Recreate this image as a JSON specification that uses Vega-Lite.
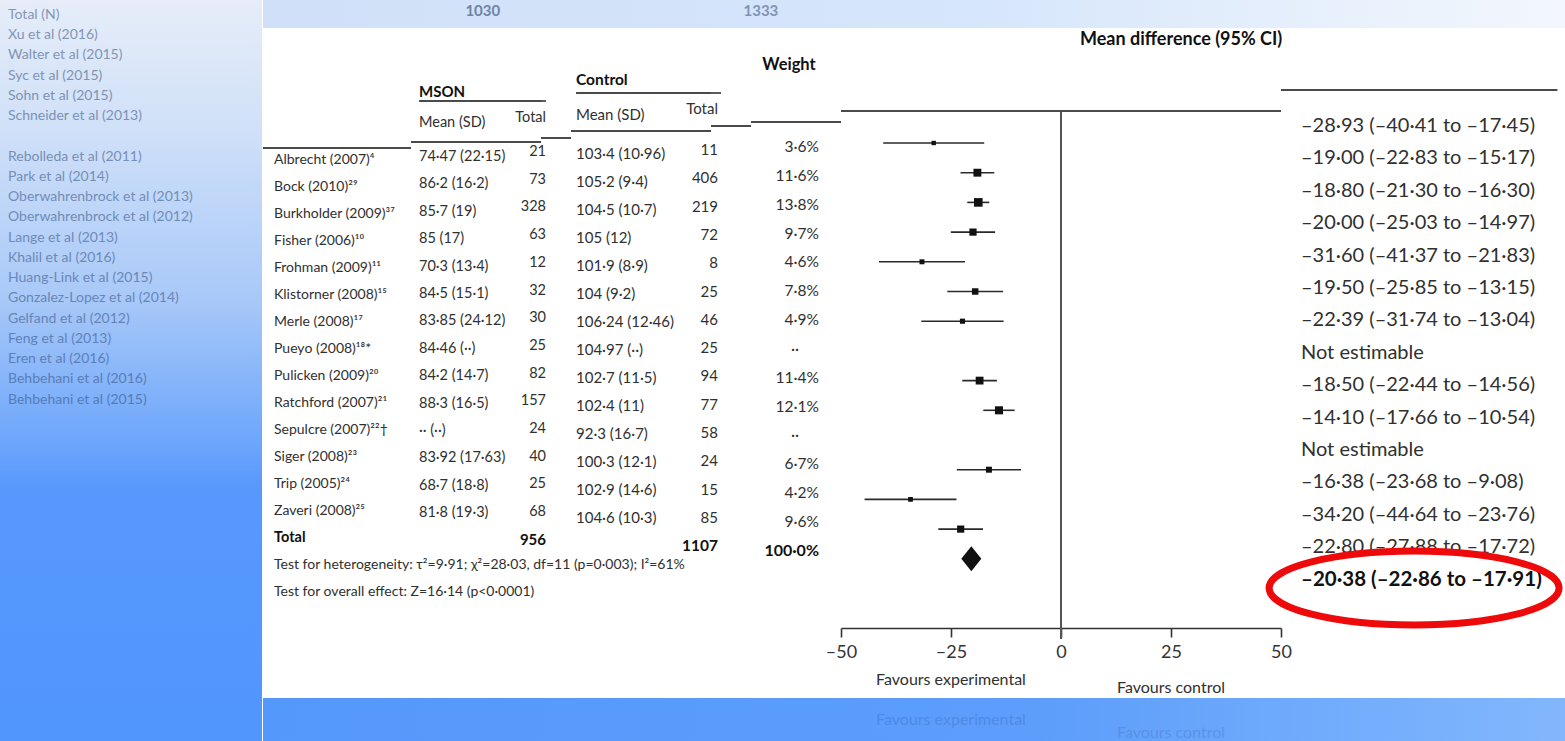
{
  "$schema": "https://vega.github.io/schema/vega-lite/v6.json",
  "padding": 0,
  "background": "#ffffff",
  "config": {
    "view": {"stroke": null},
    "font": "Lato",
    "concat": {"spacing": 0},
    "text": {"font": "Lato", "color": "#303030", "baseline": "middle"}
  },
  "datasets": {
    "one": [{"k": 1}],
    "ghost": [
      {"g": 0, "t": "Total (N)"},
      {"g": 1, "t": "Xu et al (2016)"},
      {"g": 2, "t": "Walter et al (2015)"},
      {"g": 3, "t": "Syc et al (2015)"},
      {"g": 4, "t": "Sohn et al (2015)"},
      {"g": 5, "t": "Schneider et al (2013)"},
      {"g": 7, "t": "Rebolleda et al (2011)"},
      {"g": 8, "t": "Park et al (2014)"},
      {"g": 9, "t": "Oberwahrenbrock et al (2013)"},
      {"g": 10, "t": "Oberwahrenbrock et al (2012)"},
      {"g": 11, "t": "Lange et al (2013)"},
      {"g": 12, "t": "Khalil et al (2016)"},
      {"g": 13, "t": "Huang-Link et al (2015)"},
      {"g": 14, "t": "Gonzalez-Lopez et al (2014)"},
      {"g": 15, "t": "Gelfand et al (2012)"},
      {"g": 16, "t": "Feng et al (2013)"},
      {"g": 17, "t": "Eren et al (2016)"},
      {"g": 18, "t": "Behbehani et al (2016)"},
      {"g": 19, "t": "Behbehani et al (2015)"}
    ],
    "studies": [
      {"r": 1, "study": "Albrecht (2007)⁴", "mm": "74·47 (22·15)", "mt": "21", "cm": "103·4 (10·96)", "ct": "11", "wt": "3·6%", "w": 3.6, "md": -28.93, "lo": -40.41, "hi": -17.45, "ci": "–28·93 (–40·41 to –17·45)"},
      {"r": 2, "study": "Bock (2010)²⁹", "mm": "86·2 (16·2)", "mt": "73", "cm": "105·2 (9·4)", "ct": "406", "wt": "11·6%", "w": 11.6, "md": -19.0, "lo": -22.83, "hi": -15.17, "ci": "–19·00 (–22·83 to –15·17)"},
      {"r": 3, "study": "Burkholder (2009)³⁷", "mm": "85·7 (19)", "mt": "328", "cm": "104·5 (10·7)", "ct": "219", "wt": "13·8%", "w": 13.8, "md": -18.8, "lo": -21.3, "hi": -16.3, "ci": "–18·80 (–21·30 to –16·30)"},
      {"r": 4, "study": "Fisher (2006)¹⁰", "mm": "85 (17)", "mt": "63", "cm": "105 (12)", "ct": "72", "wt": "9·7%", "w": 9.7, "md": -20.0, "lo": -25.03, "hi": -14.97, "ci": "–20·00 (–25·03 to –14·97)"},
      {"r": 5, "study": "Frohman (2009)¹¹", "mm": "70·3 (13·4)", "mt": "12", "cm": "101·9 (8·9)", "ct": "8", "wt": "4·6%", "w": 4.6, "md": -31.6, "lo": -41.37, "hi": -21.83, "ci": "–31·60 (–41·37 to –21·83)"},
      {"r": 6, "study": "Klistorner (2008)¹⁵", "mm": "84·5 (15·1)", "mt": "32", "cm": "104 (9·2)", "ct": "25", "wt": "7·8%", "w": 7.8, "md": -19.5, "lo": -25.85, "hi": -13.15, "ci": "–19·50 (–25·85 to –13·15)"},
      {"r": 7, "study": "Merle (2008)¹⁷", "mm": "83·85 (24·12)", "mt": "30", "cm": "106·24 (12·46)", "ct": "46", "wt": "4·9%", "w": 4.9, "md": -22.39, "lo": -31.74, "hi": -13.04, "ci": "–22·39 (–31·74 to –13·04)"},
      {"r": 8, "study": "Pueyo (2008)¹⁸*", "mm": "84·46 (··)", "mt": "25", "cm": "104·97 (··)", "ct": "25", "wt": "··", "w": null, "md": null, "lo": null, "hi": null, "ci": "Not estimable"},
      {"r": 9, "study": "Pulicken (2009)²⁰", "mm": "84·2 (14·7)", "mt": "82", "cm": "102·7 (11·5)", "ct": "94", "wt": "11·4%", "w": 11.4, "md": -18.5, "lo": -22.44, "hi": -14.56, "ci": "–18·50 (–22·44 to –14·56)"},
      {"r": 10, "study": "Ratchford (2007)²¹", "mm": "88·3 (16·5)", "mt": "157", "cm": "102·4 (11)", "ct": "77", "wt": "12·1%", "w": 12.1, "md": -14.1, "lo": -17.66, "hi": -10.54, "ci": "–14·10 (–17·66 to –10·54)"},
      {"r": 11, "study": "Sepulcre (2007)²²†", "mm": "·· (··)", "mt": "24", "cm": "92·3 (16·7)", "ct": "58", "wt": "··", "w": null, "md": null, "lo": null, "hi": null, "ci": "Not estimable"},
      {"r": 12, "study": "Siger (2008)²³", "mm": "83·92 (17·63)", "mt": "40", "cm": "100·3 (12·1)", "ct": "24", "wt": "6·7%", "w": 6.7, "md": -16.38, "lo": -23.68, "hi": -9.08, "ci": "–16·38 (–23·68 to –9·08)"},
      {"r": 13, "study": "Trip (2005)²⁴", "mm": "68·7 (18·8)", "mt": "25", "cm": "102·9 (14·6)", "ct": "15", "wt": "4·2%", "w": 4.2, "md": -34.2, "lo": -44.64, "hi": -23.76, "ci": "–34·20 (–44·64 to –23·76)"},
      {"r": 14, "study": "Zaveri (2008)²⁵", "mm": "81·8 (19·3)", "mt": "68", "cm": "104·6 (10·3)", "ct": "85", "wt": "9·6%", "w": 9.6, "md": -22.8, "lo": -27.88, "hi": -17.72, "ci": "–22·80 (–27·88 to –17·72)"},
      {"r": 15, "study": "Total", "mm": "", "mt": "956", "cm": "", "ct": "1107", "wt": "100·0%", "w": null, "md": -20.38, "lo": -22.86, "hi": -17.91, "ci": "–20·38 (–22·86 to –17·91)"},
      {"r": 16, "study": "Test for heterogeneity: τ²=9·91; χ²=28·03, df=11 (p=0·003); I²=61%", "mm": "", "mt": "", "cm": "", "ct": "", "wt": "", "w": null, "md": null, "lo": null, "hi": null, "ci": ""},
      {"r": 17, "study": "Test for overall effect: Z=16·14 (p<0·0001)", "mm": "", "mt": "", "cm": "", "ct": "", "wt": "", "w": null, "md": null, "lo": null, "hi": null, "ci": ""}
    ]
  },
  "spacing": 0,
  "hconcat": [
    {
      "width": 262,
      "height": 741,
      "view": {"stroke": null, "fill": {"gradient": "linear", "x1": 0, "y1": 0, "x2": 0, "y2": 1, "stops": [{"offset": 0, "color": "#e6edf8"}, {"offset": 0.18, "color": "#cfe0f8"}, {"offset": 0.4, "color": "#a9c9f8"}, {"offset": 0.58, "color": "#72a9fb"}, {"offset": 0.66, "color": "#5798fd"}, {"offset": 1, "color": "#5196fd"}]}},
      "data": {"name": "ghost"},
      "mark": {"type": "text", "align": "left", "dx": 8, "fontSize": 14, "color": "#34507f", "opacity": 0.55},
      "encoding": {
        "x": {"datum": 0, "type": "quantitative", "scale": {"domain": [0, 1], "nice": false, "zero": false}, "axis": null},
        "y": {"field": "g", "type": "quantitative", "scale": {"domain": [-0.741, 35.87], "reverse": true, "nice": false, "zero": false}, "axis": null},
        "text": {"field": "t"}
      }
    },
    {
      "spacing": 0,
      "vconcat": [
        {
          "width": 1303,
          "height": 28,
          "view": {"stroke": null, "fill": {"gradient": "linear", "x1": 0, "y1": 0, "x2": 1, "y2": 0, "stops": [{"offset": 0, "color": "#cfe0f8"}, {"offset": 0.55, "color": "#d6e6fb"}, {"offset": 1, "color": "#f3f7fd"}]}},
          "data": {"name": "one"},
          "encoding": {
            "x": {"datum": -131.4, "type": "quantitative", "scale": {"domain": [-181.36, 114.77], "nice": false, "zero": false}, "axis": null},
            "y": {"datum": 0.6, "type": "quantitative", "scale": {"domain": [0, 1], "nice": false, "zero": false}, "axis": null}
          },
          "layer": [
            {"mark": {"type": "text", "text": "1030", "fontSize": 15, "fontWeight": "bold", "color": "#2e4470", "opacity": 0.6}},
            {"mark": {"type": "text", "text": "1333", "fontSize": 15, "fontWeight": "bold", "color": "#2e4470", "opacity": 0.5}, "encoding": {"x": {"datum": -68.2, "type": "quantitative", "axis": null}}}
          ]
        },
        {
          "spacing": 0,
          "bounds": "flush",
          "hconcat": [
            {
              "width": 148,
              "height": 670,
              "encoding": {
                "x": {"datum": 0, "type": "quantitative", "scale": {"domain": [0, 1], "nice": false, "zero": false}, "axis": null}
              },
              "layer": [
                {"data": {"name": "studies"}, "transform": [{"filter": "datum.r != 15"}], "mark": {"type": "text", "align": "left", "dx": 11, "fontSize": 14}, "encoding": {"y": {"field": "r", "type": "quantitative", "scale": {"domain": [-3.889, 20.926], "reverse": true, "nice": false, "zero": false}, "axis": null}, "text": {"field": "study"}}},
                {"data": {"name": "studies"}, "transform": [{"filter": "datum.r == 15"}], "mark": {"type": "text", "align": "left", "dx": 11, "fontSize": 14.5, "fontWeight": "bold", "color": "#111111"}, "encoding": {"y": {"field": "r", "type": "quantitative", "axis": null}, "text": {"field": "study"}}},
                {"data": {"name": "one"}, "mark": {"type": "rule", "color": "#4a4a4a", "strokeWidth": 2}, "encoding": {"x2": {"datum": 1}, "y": {"datum": 0.556, "type": "quantitative", "axis": null}}}
              ]
            },
            {
              "width": 130,
              "height": 670,
              "encoding": {
                "x": {"datum": 0, "type": "quantitative", "scale": {"domain": [0, 1], "nice": false, "zero": false}, "axis": null}
              },
              "layer": [
                {"data": {"name": "studies"}, "mark": {"type": "text", "align": "left", "dx": 8, "fontSize": 14.5}, "encoding": {"y": {"field": "r", "type": "quantitative", "scale": {"domain": [-3.708, 20.745], "reverse": true, "nice": false, "zero": false}, "axis": null}, "text": {"field": "mm"}}},
                {"data": {"name": "one"}, "mark": {"type": "text", "text": "MSON", "align": "left", "dx": 8, "fontSize": 15, "fontWeight": "bold", "color": "#111111"}, "encoding": {"y": {"datum": -1.372, "type": "quantitative", "axis": null}}},
                {"data": {"name": "one"}, "mark": {"type": "text", "text": "Mean (SD)", "align": "left", "dx": 8, "fontSize": 14.5}, "encoding": {"y": {"datum": -0.241, "type": "quantitative", "axis": null}}},
                {"data": {"name": "one"}, "mark": {"type": "rule", "color": "#4a4a4a", "strokeWidth": 1.8}, "encoding": {"x": {"datum": 0.062, "type": "quantitative", "axis": null}, "x2": {"datum": 1}, "y": {"datum": -1.044, "type": "quantitative", "axis": null}}},
                {"data": {"name": "one"}, "mark": {"type": "rule", "color": "#4a4a4a", "strokeWidth": 2}, "encoding": {"x2": {"datum": 1}, "y": {"datum": 0.453, "type": "quantitative", "axis": null}}}
              ]
            },
            {
              "width": 30,
              "height": 670,
              "encoding": {
                "x": {"datum": 0, "type": "quantitative", "scale": {"domain": [0, 1], "nice": false, "zero": false}, "axis": null}
              },
              "layer": [
                {"data": {"name": "studies"}, "transform": [{"filter": "datum.r != 15"}], "mark": {"type": "text", "align": "right", "dx": 5, "fontSize": 14.5}, "encoding": {"y": {"field": "r", "type": "quantitative", "scale": {"domain": [-3.477, 20.711], "reverse": true, "nice": false, "zero": false}, "axis": null}, "text": {"field": "mt"}}},
                {"data": {"name": "studies"}, "transform": [{"filter": "datum.r == 15"}], "mark": {"type": "text", "align": "right", "dx": 5, "fontSize": 15, "fontWeight": "bold", "color": "#111111"}, "encoding": {"y": {"field": "r", "type": "quantitative", "axis": null}, "text": {"field": "mt"}}},
                {"data": {"name": "one"}, "mark": {"type": "text", "text": "Total", "align": "right", "dx": 5, "fontSize": 14.5}, "encoding": {"y": {"datum": -0.228, "type": "quantitative", "axis": null}}},
                {"data": {"name": "one"}, "mark": {"type": "rule", "color": "#4a4a4a", "strokeWidth": 1.8}, "encoding": {"x2": {"datum": 0.167}, "y": {"datum": -0.842, "type": "quantitative", "axis": null}}},
                {"data": {"name": "one"}, "mark": {"type": "rule", "color": "#4a4a4a", "strokeWidth": 2}, "encoding": {"x2": {"datum": 1}, "y": {"datum": 0.494, "type": "quantitative", "axis": null}}}
              ]
            },
            {
              "width": 140,
              "height": 670,
              "encoding": {
                "x": {"datum": 0, "type": "quantitative", "scale": {"domain": [0, 1], "nice": false, "zero": false}, "axis": null}
              },
              "layer": [
                {"data": {"name": "studies"}, "mark": {"type": "text", "align": "left", "dx": 5, "fontSize": 15}, "encoding": {"y": {"field": "r", "type": "quantitative", "scale": {"domain": [-3.5, 20.429], "reverse": true, "nice": false, "zero": false}, "axis": null}, "text": {"field": "cm"}}},
                {"data": {"name": "one"}, "mark": {"type": "text", "text": "Control", "align": "left", "dx": 5, "fontSize": 15.5, "fontWeight": "bold", "color": "#111111"}, "encoding": {"y": {"datum": -1.643, "type": "quantitative", "axis": null}}},
                {"data": {"name": "one"}, "mark": {"type": "text", "text": "Mean (SD)", "align": "left", "dx": 5, "fontSize": 15}, "encoding": {"y": {"datum": -0.393, "type": "quantitative", "axis": null}}},
                {"data": {"name": "one"}, "mark": {"type": "rule", "color": "#4a4a4a", "strokeWidth": 1.8}, "encoding": {"x": {"datum": 0.036, "type": "quantitative", "axis": null}, "x2": {"datum": 1}, "y": {"datum": -1.179, "type": "quantitative", "axis": null}}},
                {"data": {"name": "one"}, "mark": {"type": "rule", "color": "#4a4a4a", "strokeWidth": 2}, "encoding": {"x2": {"datum": 1}, "y": {"datum": 0.179, "type": "quantitative", "axis": null}}}
              ]
            },
            {
              "width": 40,
              "height": 670,
              "encoding": {
                "x": {"datum": 0, "type": "quantitative", "scale": {"domain": [0, 1], "nice": false, "zero": false}, "axis": null}
              },
              "layer": [
                {"data": {"name": "studies"}, "transform": [{"filter": "datum.r != 15"}], "mark": {"type": "text", "align": "right", "dx": 7, "fontSize": 15}, "encoding": {"y": {"field": "r", "type": "quantitative", "scale": {"domain": [-3.311, 20.364], "reverse": true, "nice": false, "zero": false}, "axis": null}, "text": {"field": "ct"}}},
                {"data": {"name": "studies"}, "transform": [{"filter": "datum.r == 15"}], "mark": {"type": "text", "align": "right", "dx": 7, "fontSize": 15.5, "fontWeight": "bold", "color": "#111111"}, "encoding": {"y": {"field": "r", "type": "quantitative", "axis": null}, "text": {"field": "ct"}}},
                {"data": {"name": "one"}, "mark": {"type": "text", "text": "Total", "align": "right", "dx": 7, "fontSize": 15}, "encoding": {"y": {"datum": -0.449, "type": "quantitative", "axis": null}}},
                {"data": {"name": "one"}, "mark": {"type": "rule", "color": "#4a4a4a", "strokeWidth": 1.8}, "encoding": {"x2": {"datum": 0.25}, "y": {"datum": -1.014, "type": "quantitative", "axis": null}}},
                {"data": {"name": "one"}, "mark": {"type": "rule", "color": "#4a4a4a", "strokeWidth": 2}, "encoding": {"x2": {"datum": 1}, "y": {"datum": 0.152, "type": "quantitative", "axis": null}}}
              ]
            },
            {
              "width": 90,
              "height": 670,
              "encoding": {
                "x": {"datum": 0, "type": "quantitative", "scale": {"domain": [0, 1], "nice": false, "zero": false}, "axis": null}
              },
              "layer": [
                {"data": {"name": "studies"}, "transform": [{"filter": "datum.r != 15 && datum.wt != '··'"}], "mark": {"type": "text", "align": "right", "dx": 68, "fontSize": 15.5}, "encoding": {"y": {"field": "r", "type": "quantitative", "scale": {"domain": [-3.125, 20.099], "reverse": true, "nice": false, "zero": false}, "axis": null}, "text": {"field": "wt"}}},
                {"data": {"name": "studies"}, "transform": [{"filter": "datum.wt == '··'"}], "mark": {"type": "text", "align": "center", "dx": 44, "fontSize": 15.5}, "encoding": {"y": {"field": "r", "type": "quantitative", "axis": null}, "text": {"field": "wt"}}},
                {"data": {"name": "studies"}, "transform": [{"filter": "datum.r == 15"}], "mark": {"type": "text", "align": "right", "dx": 68, "fontSize": 16, "fontWeight": "bold", "color": "#111111"}, "encoding": {"y": {"field": "r", "type": "quantitative", "axis": null}, "text": {"field": "wt"}}},
                {"data": {"name": "one"}, "mark": {"type": "text", "text": "Weight", "align": "center", "dx": 38, "fontSize": 16.5, "fontWeight": "bold", "color": "#111111"}, "encoding": {"y": {"datum": -1.843, "type": "quantitative", "axis": null}}},
                {"data": {"name": "one"}, "mark": {"type": "rule", "color": "#4a4a4a", "strokeWidth": 2}, "encoding": {"x2": {"datum": 1}, "y": {"datum": 0.133, "type": "quantitative", "axis": null}}}
              ]
            },
            {
              "width": 440,
              "height": 600,
              "layer": [
                {
                  "data": {"name": "studies"},
                  "transform": [{"filter": "isValid(datum.md) && datum.r <= 14"}],
                  "mark": {"type": "rule", "color": "#2a2a2a", "strokeWidth": 1.6},
                  "encoding": {
                    "x": {"field": "lo", "type": "quantitative", "scale": {"domain": [-50, 50], "nice": false, "zero": false}, "axis": {"values": [-50, -25, 0, 25, 50], "title": null, "grid": false, "labelExpr": "datum.value < 0 ? '–' + abs(datum.value) : datum.label", "labelFontSize": 18, "labelFont": "Lato", "labelColor": "#333333", "tickSize": 9, "tickWidth": 1.6, "tickColor": "#333333", "domainColor": "#333333", "domainWidth": 1.6, "labelPadding": 6, "labelFlush": false}},
                    "x2": {"field": "hi"},
                    "y": {"field": "r", "type": "quantitative", "scale": {"domain": [-2.872, 17.33], "reverse": true, "nice": false, "zero": false}, "axis": null}
                  }
                },
                {
                  "data": {"name": "studies"},
                  "transform": [{"filter": "isValid(datum.md) && datum.r <= 14"}],
                  "mark": {"type": "square", "color": "#111111", "opacity": 1},
                  "encoding": {
                    "x": {"field": "md", "type": "quantitative"},
                    "y": {"field": "r", "type": "quantitative", "axis": null},
                    "size": {"field": "w", "type": "quantitative", "scale": {"domain": [0, 14], "range": [0, 75]}, "legend": null}
                  }
                },
                {
                  "data": {"name": "studies"},
                  "transform": [{"filter": "datum.r == 15"}],
                  "mark": {"type": "point", "shape": "M-0.8,0L0,-1L0.8,0L0,1Z", "filled": true, "color": "#111111", "opacity": 1, "size": 625},
                  "encoding": {
                    "x": {"field": "md", "type": "quantitative"},
                    "y": {"field": "r", "type": "quantitative", "axis": null}
                  }
                },
                {
                  "data": {"name": "one"},
                  "mark": {"type": "rule", "color": "#555555", "strokeWidth": 2},
                  "encoding": {
                    "x": {"datum": 0, "type": "quantitative"},
                    "y": {"datum": -0.08, "type": "quantitative", "axis": null},
                    "y2": {"datum": 17.7}
                  }
                },
                {
                  "data": {"name": "one"},
                  "mark": {"type": "rule", "color": "#4a4a4a", "strokeWidth": 2},
                  "encoding": {
                    "x": {"datum": -50, "type": "quantitative"},
                    "x2": {"datum": 50},
                    "y": {"datum": -0.08, "type": "quantitative", "axis": null}
                  }
                },
                {
                  "data": {"name": "one"},
                  "mark": {"type": "text", "text": "Mean difference (95% CI)", "fontSize": 18, "fontWeight": "bold", "color": "#111111"},
                  "encoding": {
                    "x": {"datum": 27.3, "type": "quantitative"},
                    "y": {"datum": -2.468, "type": "quantitative", "axis": null}
                  }
                },
                {
                  "data": {"name": "one"},
                  "mark": {"type": "text", "text": "Favours experimental", "fontSize": 16, "color": "#303030"},
                  "encoding": {
                    "x": {"datum": -25, "type": "quantitative"},
                    "y": {"datum": 19.08, "type": "quantitative", "axis": null}
                  }
                },
                {
                  "data": {"name": "one"},
                  "mark": {"type": "text", "text": "Favours control", "fontSize": 16, "color": "#303030"},
                  "encoding": {
                    "x": {"datum": 25, "type": "quantitative"},
                    "y": {"datum": 19.35, "type": "quantitative", "axis": null}
                  }
                }
              ]
            },
            {
              "width": 285,
              "height": 670,
              "encoding": {
                "x": {"datum": 0, "type": "quantitative", "scale": {"domain": [0, 1], "nice": false, "zero": false}, "axis": null}
              },
              "layer": [
                {"data": {"name": "studies"}, "transform": [{"filter": "datum.r <= 14"}], "mark": {"type": "text", "align": "left", "dx": 20, "fontSize": 20}, "encoding": {"y": {"field": "r", "type": "quantitative", "scale": {"domain": [-2.025, 18.654], "reverse": true, "nice": false, "zero": false}, "axis": null}, "text": {"field": "ci"}}},
                {"data": {"name": "studies"}, "transform": [{"filter": "datum.r == 15"}], "mark": {"type": "text", "align": "left", "dx": 20, "fontSize": 20.5, "fontWeight": "bold", "color": "#111111"}, "encoding": {"y": {"field": "r", "type": "quantitative", "axis": null}, "text": {"field": "ci"}}},
                {"data": {"name": "one"}, "mark": {"type": "rule", "color": "#4a4a4a", "strokeWidth": 2}, "encoding": {"x2": {"datum": 0.97}, "y": {"datum": -0.111, "type": "quantitative", "axis": null}}},
                {"data": {"name": "one"}, "mark": {"type": "point", "shape": "M-1,0C-1,-0.1408,-0.5523,-0.255,0,-0.255C0.5523,-0.255,1,-0.1408,1,0C1,0.1408,0.5523,0.255,0,0.255C-0.5523,0.255,-1,0.1408,-1,0Z", "filled": false, "strokeWidth": 7, "color": "#ee0a0a", "opacity": 1, "size": 84100}, "encoding": {"x": {"datum": 0.467, "type": "quantitative", "axis": null}, "y": {"datum": 15.26, "type": "quantitative", "axis": null}}}
              ]
            }
          ]
        },
        {
          "width": 1303,
          "height": 43,
          "view": {"stroke": null, "fill": {"gradient": "linear", "x1": 0, "y1": 0, "x2": 1, "y2": 0, "stops": [{"offset": 0, "color": "#5598fc"}, {"offset": 0.6, "color": "#5d9efb"}, {"offset": 1, "color": "#82b7fd"}]}},
          "data": {"name": "one"},
          "encoding": {
            "x": {"datum": -25, "type": "quantitative", "scale": {"domain": [-181.36, 114.77], "nice": false, "zero": false}, "axis": null},
            "y": {"datum": 0.5, "type": "quantitative", "scale": {"domain": [0, 1], "nice": false, "zero": false}, "axis": null}
          },
          "layer": [
            {"mark": {"type": "text", "text": "Favours experimental", "fontSize": 16, "color": "#2f5fb0", "opacity": 0.3}},
            {"mark": {"type": "text", "text": "Favours control", "fontSize": 16, "color": "#2f5fb0", "opacity": 0.25}, "encoding": {"x": {"datum": 25, "type": "quantitative", "axis": null}, "y": {"datum": 0.18, "type": "quantitative", "axis": null}}}
          ]
        }
      ]
    }
  ]
}
